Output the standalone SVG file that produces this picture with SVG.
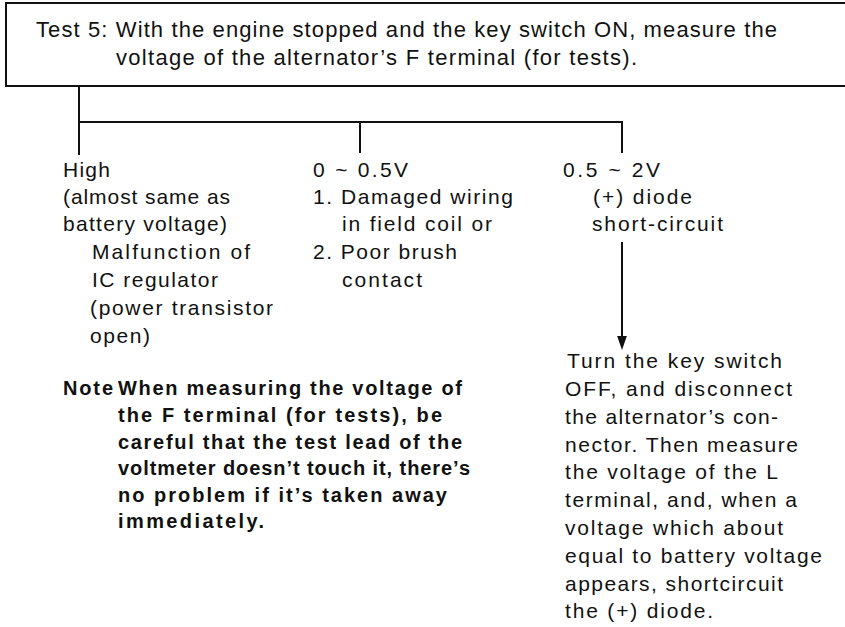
<svg xmlns="http://www.w3.org/2000/svg" width="845" height="627" viewBox="0 0 845 627">
<style>
.t{font-family:"Liberation Sans",Arial,sans-serif;font-size:21px;fill:#111}
.h{font-family:"Liberation Sans",Arial,sans-serif;font-size:22px;fill:#111}
.b{font-family:"Liberation Sans",Arial,sans-serif;font-size:20px;font-weight:bold;fill:#111}
.ln{stroke:#111;stroke-width:2;fill:none}
</style>
<defs>
<marker id="ah" markerWidth="14" markerHeight="20" refX="13" refY="7" orient="auto" markerUnits="userSpaceOnUse" viewBox="0 0 20 14">
<path d="M0,0 L20,7 L0,14 Z" fill="#111"/>
</marker>
</defs>
<rect width="845" height="627" fill="#fff"/>
<g id="test5">
<rect x="6" y="3" width="860" height="83" class="ln"/>
<text class="h" x="36" y="37" textLength="741">Test 5: With the engine stopped and the key switch ON, measure the</text>
<text class="h" x="116" y="65" textLength="521">voltage of the alternator’s F terminal (for tests).</text>
</g>
<g id="connectors">
<path class="ln" d="M79,86 V155 M79,122 H623 M360,122 V153 M622,122 V153"/>
<path class="ln" d="M622,242 V345" stroke-width="2.5" marker-end="url(#ah)"/>
</g>
<g id="high">
<text class="t" x="63" y="177" textLength="47">High</text>
<text class="t" x="63" y="204" textLength="167">(almost same as</text>
<text class="t" x="63" y="231" textLength="164">battery voltage)</text>
<text class="t" x="92" y="259" textLength="158">Malfunction of</text>
<text class="t" x="92" y="287" textLength="126">IC regulator</text>
<text class="t" x="90" y="315" textLength="183">(power transistor</text>
<text class="t" x="90" y="343" textLength="60">open)</text>
</g>
<g id="low">
<text class="t" x="313" y="177" textLength="95">0 ~ 0.5V</text>
<text class="t" x="313" y="204" textLength="200">1. Damaged wiring</text>
<text class="t" x="342" y="231" textLength="150">in field coil or</text>
<text class="t" x="313" y="259" textLength="144">2. Poor brush</text>
<text class="t" x="342" y="287" textLength="80">contact</text>
</g>
<g id="mid">
<text class="t" x="563" y="177" textLength="97">0.5 ~ 2V</text>
<text class="t" x="593" y="204" textLength="99">(+) diode</text>
<text class="t" x="592" y="231" textLength="131">short-circuit</text>
</g>
<g id="action">
<text class="t" x="567" y="368" textLength="215">Turn the key switch</text>
<text class="t" x="565" y="396" textLength="227">OFF, and disconnect</text>
<text class="t" x="565" y="423.5" textLength="213">the alternator’s con-</text>
<text class="t" x="565" y="451.5" textLength="233">nector. Then measure</text>
<text class="t" x="565" y="479" textLength="213">the voltage of the L</text>
<text class="t" x="565" y="507" textLength="232">terminal, and, when a</text>
<text class="t" x="565" y="535" textLength="218">voltage which about</text>
<text class="t" x="565" y="562.5" textLength="257">equal to battery voltage</text>
<text class="t" x="565" y="590.5" textLength="218">appears, shortcircuit</text>
<text class="t" x="565" y="618" textLength="148">the (+) diode.</text>
</g>
<g id="note">
<text class="b" x="63" y="395" textLength="50">Note</text>
<text class="b" x="118" y="395" textLength="344">When measuring the voltage of</text>
<text class="b" x="118" y="422" textLength="324">the F terminal (for tests), be</text>
<text class="b" x="118" y="448.5" textLength="344">careful that the test lead of the</text>
<text class="b" x="118" y="475" textLength="352">voltmeter doesn’t touch it, there’s</text>
<text class="b" x="118" y="502" textLength="329">no problem if it’s taken away</text>
<text class="b" x="118" y="528" textLength="146">immediately.</text>
</g>
</svg>
